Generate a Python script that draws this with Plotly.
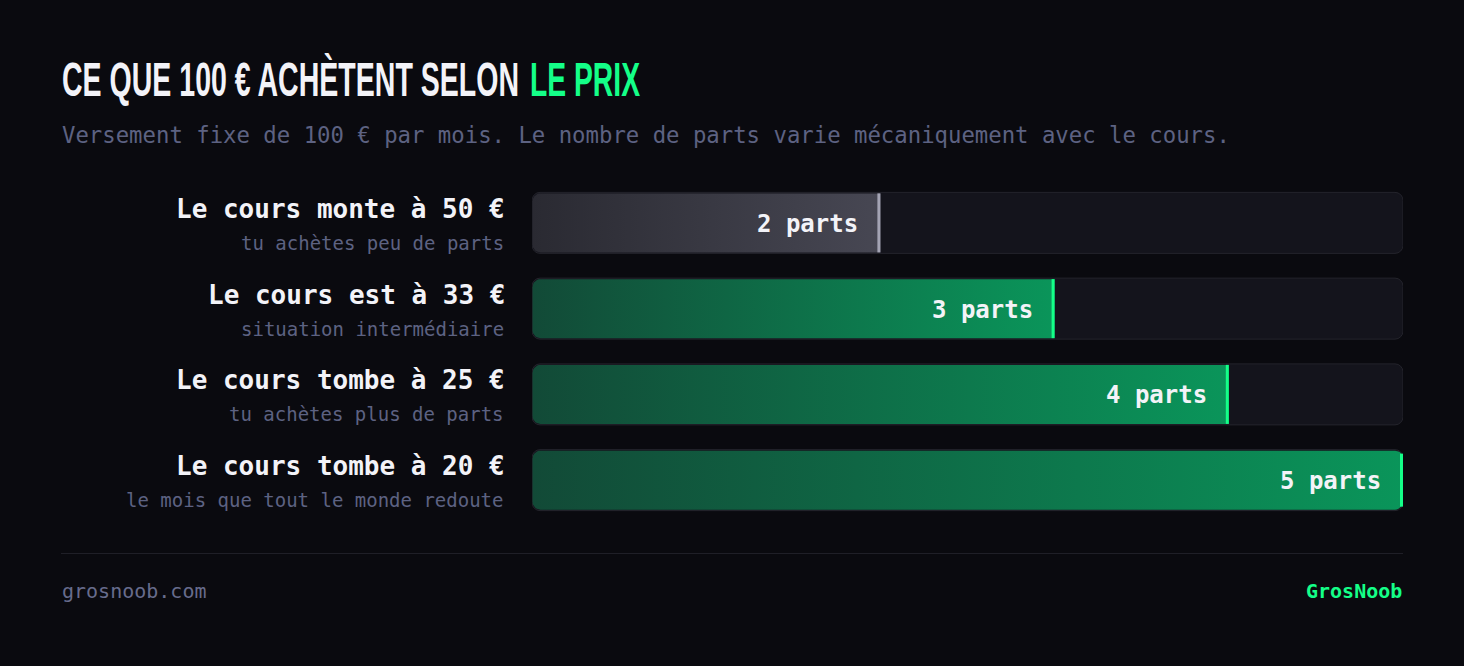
import numpy as np
import plotly.graph_objects as go

# ---- data ----
labels = ["Le cours monte à 50 €", "Le cours est à 33 €", "Le cours tombe à 25 €", "Le cours tombe à 20 €"]
sublabels = ["tu achètes peu de parts", "situation intermédiaire", "tu achètes plus de parts", "le mois que tout le monde redoute"]
parts = [2, 3, 4, 5]
max_parts = 5
value_labels = [f"{p} parts" for p in parts]
title_white = "CE QUE 100 € ACHÈTENT SELON"
title_green = "LE PRIX"
subtitle = "Versement fixe de 100 € par mois. Le nombre de parts varie mécaniquement avec le cours."
footer_left = "grosnoob.com"
footer_right = "GrosNoob"

# ---- styles ----
FW, FH = 1464, 666
BG = "#0a0a0f"
TRACK = "#14141c"
TRACK_LINE = "#24242c"
GREEN = "#14ff88"
WHITE = "#f3f3f8"
MUTED = "#5d6282"
MONO = "DejaVu Sans Mono"
TITLE_FONT = "Liberation Sans, Arial, sans-serif"

PL, PR, PT, PB = 532, 1403, 180, 523  # plot area in pixels
x_ppu = (PR - PL) / max_parts
y_ppu = (PB - PT) / 4.0
bar_h = 61 / y_ppu
rad_px = 8
rx, ry = rad_px / x_ppu, rad_px / y_ppu

def px_x(p):
    return p / FW

def px_y(p):
    return 1 - p / FH

def rounded_rect(x0, x1, yc, h, round_left=True, round_right=False):
    y0, y1 = yc - h / 2, yc + h / 2
    xs, ys = [], []
    t = np.linspace(0, np.pi / 2, 8)
    if round_left:
        xs += list(x0 + rx - rx * np.cos(t)); ys += list(y0 + ry - ry * np.sin(t))
    else:
        xs += [x0]; ys += [y0]
    if round_right:
        xs += list(x1 - rx + rx * np.sin(t)); ys += list(y0 + ry - ry * np.cos(t))
        xs += list(x1 - rx + rx * np.cos(t)); ys += list(y1 - ry + ry * np.sin(t))
    else:
        xs += [x1, x1]; ys += [y0, y1]
    if round_left:
        xs += list(x0 + rx - rx * np.sin(t)); ys += list(y1 - ry + ry * np.cos(t))
    else:
        xs += [x0]; ys += [y1]
    xs.append(xs[0]); ys.append(ys[0])
    return xs, ys

fig = go.Figure()
idx = list(range(len(parts)))

# tracks
fig.add_trace(go.Bar(
    x=[max_parts] * len(parts), y=idx, orientation="h", base=0, width=bar_h,
    marker=dict(color=TRACK, line=dict(color=TRACK_LINE, width=1), cornerradius=rad_px),
    hoverinfo="skip", showlegend=False))

# fills
for i, p in enumerate(parts):
    full = p >= max_parts
    inner_h = bar_h - 2 / y_ppu
    xs, ys = rounded_rect(0.5 / x_ppu, p, i, inner_h, True, full)
    if i == 0:
        cs = [[0, "#2a2a32"], [1, "#474753"]]
        edge = "#a4a4b4"
    else:
        cs = [[0, "#124a37"], [1, "#0a955a"]]
        edge = GREEN
    fig.add_trace(go.Scatter(
        x=xs, y=ys, mode="lines", fill="toself",
        fillgradient=dict(type="horizontal", colorscale=cs),
        line=dict(width=0, color="rgba(0,0,0,0)"), hoverinfo="skip", showlegend=False))
    ex = p - 1.5 / x_ppu
    inset = (4 / y_ppu) if full else (1 / y_ppu)
    fig.add_trace(go.Scatter(
        x=[ex, ex], y=[i - bar_h / 2 + inset, i + bar_h / 2 - inset], mode="lines",
        line=dict(color=edge, width=3), hoverinfo="skip", showlegend=False))

annotations = []
for i, p in enumerate(parts):
    annotations.append(dict(x=p, y=i, xref="x", yref="y", text=f"<b>{value_labels[i]}</b>",
                            xanchor="right", yanchor="middle", xshift=-20, yshift=-1, showarrow=False,
                            font=dict(family=MONO, size=24, color=WHITE)))
    annotations.append(dict(x=0, y=i, xref="x", yref="y", text=f"<b>{labels[i]}</b>",
                            xanchor="right", yanchor="middle", xshift=-25, yshift=14, showarrow=False,
                            font=dict(family=MONO, size=26, color=WHITE)))
    annotations.append(dict(x=0, y=i, xref="x", yref="y", text=sublabels[i],
                            xanchor="right", yanchor="middle", xshift=-26, yshift=-20, showarrow=False,
                            font=dict(family=MONO, size=19, color=MUTED)))

# title: two pieces, each squeezed to a condensed width by the post script
annotations.append(dict(x=px_x(60), y=px_y(80), xref="paper", yref="paper",
                        text=f"<b>{title_white}</b>",
                        xanchor="left", yanchor="middle", showarrow=False,
                        font=dict(family=TITLE_FONT, size=48, color=WHITE)))
annotations.append(dict(x=px_x(528), y=px_y(80), xref="paper", yref="paper",
                        text=f"<b>{title_green}</b>",
                        xanchor="left", yanchor="middle", showarrow=False,
                        font=dict(family=TITLE_FONT, size=48, color=GREEN)))
annotations.append(dict(x=px_x(60), y=px_y(135), xref="paper", yref="paper", text=subtitle,
                        xanchor="left", yanchor="middle", showarrow=False,
                        font=dict(family=MONO, size=22.3, color=MUTED)))
annotations.append(dict(x=px_x(60), y=px_y(591), xref="paper", yref="paper", text=footer_left,
                        xanchor="left", yanchor="middle", showarrow=False,
                        font=dict(family=MONO, size=20, color="#676c8c")))
annotations.append(dict(x=px_x(1404), y=px_y(591), xref="paper", yref="paper", text=f"<b>{footer_right}</b>",
                        xanchor="right", yanchor="middle", showarrow=False,
                        font=dict(family=MONO, size=20, color=GREEN)))

fig.update_layout(
    width=FW, height=FH, margin=dict(l=0, r=0, t=0, b=0),
    paper_bgcolor=BG, plot_bgcolor=BG, showlegend=False,
    xaxis=dict(domain=[PL / FW, PR / FW], range=[0, max_parts], visible=False, fixedrange=True),
    yaxis=dict(domain=[1 - PB / FH, 1 - PT / FH], range=[3.5, -0.5], visible=False, fixedrange=True),
    annotations=annotations,
    shapes=[dict(type="line", xref="paper", yref="paper", x0=px_x(61), x1=px_x(1403),
                 y0=px_y(553.5), y1=px_y(553.5), line=dict(color="#1f1f27", width=1))],
)

post = f"""
document.body.style.margin='0';
document.body.style.background='{BG}';
var gd = document.getElementsByClassName('plotly-graph-div')[0];
var targets = {{'{title_white}': 457, '{title_green}': 110}};
function squeeze() {{
  var texts = gd.querySelectorAll('.annotation-text');
  texts.forEach(function(t) {{
    var L = targets[t.textContent];
    if (L && !t.getAttribute('data-sq')) {{
      var bb = t.getBBox();
      t.setAttribute('text-anchor', 'start');
      t.setAttribute('x', bb.x);
      t.setAttribute('textLength', String(L));
      t.setAttribute('lengthAdjust', 'spacingAndGlyphs');
      t.setAttribute('data-sq', '1');
      var g = t.closest('.annotation');
      if (g) {{
        g.querySelectorAll('rect').forEach(function(r) {{
          var w = parseFloat(r.getAttribute('width') || '0');
          if (w > L) r.setAttribute('width', String(L + 4));
        }});
      }}
    }}
  }});
}}
squeeze();
gd.on('plotly_afterplot', squeeze);
"""

fig.write_html("out.html", config={"displayModeBar": False}, post_script=post)
